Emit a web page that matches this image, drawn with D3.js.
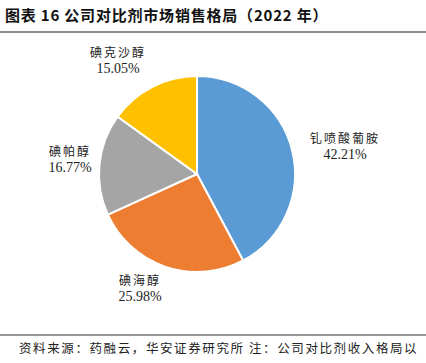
<!DOCTYPE html>
<html>
<head>
<meta charset="utf-8">
<script src="https://cdn.jsdelivr.net/npm/d3@7"></script>
<style>
  body { margin: 0; background: #fff; }
</style>
</head>
<body>
<div id="chart"></div>
<script>
const categories = ["钆喷酸葡胺", "碘海醇", "碘帕醇", "碘克沙醇"];
const shares = [42.21, 25.98, 16.77, 15.05];
const colors = ["#5b9bd5", "#ed7d31", "#a5a5a5", "#ffc000"];

const W = 426, H = 363;
const cx = 197, cy = 174, radius = 98;

const svg = d3.select("#chart").append("svg")
  .attr("width", W).attr("height", H);

svg.append("text")
  .attr("x", 5).attr("y", 21)
  .attr("font-family", "'Noto Sans CJK SC', sans-serif")
  .attr("font-weight", "bold")
  .attr("font-size", 15)
  .attr("letter-spacing", 0.8)
  .attr("fill", "#111")
  .text("图表 16  公司对比剂市场销售格局（2022 年）");

svg.append("line")
  .attr("x1", 0).attr("x2", W).attr("y1", 32).attr("y2", 32)
  .attr("stroke", "#666").attr("stroke-width", 1.5);

const pie = d3.pie().sort(null).value(d => d);
const arcs = pie(shares);
const arc = d3.arc().innerRadius(0).outerRadius(radius);

const g = svg.append("g").attr("transform", `translate(${cx},${cy})`);
g.selectAll("path")
  .data(arcs)
  .join("path")
  .attr("d", arc)
  .attr("fill", (d, i) => colors[i])
  .attr("stroke", "#fff")
  .attr("stroke-width", 2);

// label positions, relative to pie center
const labelPos = [[148, -31], [-57, 111], [-127, -18], [-79, -117]];
const labels = g.selectAll("g.lbl")
  .data(arcs)
  .join("g")
  .attr("class", "lbl")
  .attr("transform", (d, i) => `translate(${labelPos[i][0]},${labelPos[i][1]})`);
labels.append("text")
  .attr("text-anchor", "middle")
  .attr("font-family", "'Noto Sans CJK SC', sans-serif")
  .attr("font-size", 12)
  .attr("letter-spacing", 2)
  .attr("fill", "#222")
  .text((d, i) => categories[i]);
labels.append("text")
  .attr("text-anchor", "middle")
  .attr("y", 16)
  .attr("font-family", "'Liberation Serif', serif")
  .attr("font-size", 14)
  .attr("fill", "#222")
  .text(d => d.data.toFixed(2) + "%");

svg.append("line")
  .attr("x1", 0).attr("x2", W).attr("y1", 335).attr("y2", 335)
  .attr("stroke", "#333").attr("stroke-width", 1);

svg.append("text")
  .attr("x", 19).attr("y", 353)
  .attr("font-family", "'Noto Sans CJK SC', sans-serif")
  .attr("font-size", 12.5)
  .attr("letter-spacing", 1.6)
  .attr("fill", "#222")
  .text("资料来源：药融云，华安证券研究所  注：公司对比剂收入格局以");
</script>
</body>
</html>
